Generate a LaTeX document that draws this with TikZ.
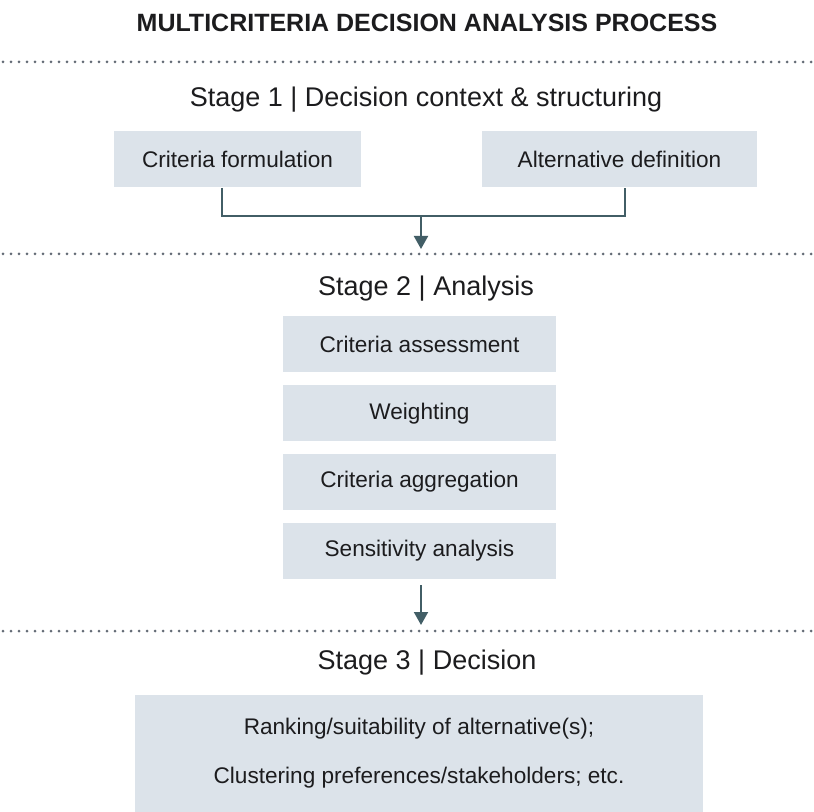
\documentclass[tikz,border=0pt]{standalone}
\usepackage{fontspec}
\setmainfont{Liberation Sans}
\usetikzlibrary{arrows.meta,positioning}
\definecolor{mist}{RGB}{220,227,234}
\definecolor{slate}{RGB}{66,94,102}
\definecolor{ink}{RGB}{28,28,30}
\definecolor{dots}{RGB}{100,108,118}
\tikzset{
  >={Triangle[length=6.5pt,width=7pt]},
  step box/.style={fill=mist,minimum height=28pt,minimum width=#1,align=center,
    font=\fontsize{11.3}{13.6}\selectfont,text=ink,inner sep=0pt},
  step box/.default=136.5pt,
  stage/.style={font=\fontsize{13.5}{16}\selectfont,text=ink},
  link/.style={draw=slate,line width=1pt},
  divider/.style={draw=dots,line width=1.5pt,line cap=round,dash pattern=on 0pt off 4pt},
}

\begin{document}
\begin{tikzpicture}[x=0.5pt,y=-0.5pt,node distance=6pt]
    \useasboundingbox[fill=white] (0,0) rectangle (814,812);
    \node[font=\fontsize{12.5}{15}\selectfont\bfseries,text=ink] (title) at (427,23) {MULTICRITERIA DECISION ANALYSIS PROCESS};
    % dotted separators between the stages
    \foreach \y in {62,254,631} \draw[divider] (3,\y) -- (814,\y);
    % stage 1
    \node[stage] (s1) at (426,100) {Stage 1 | Decision context \& structuring};
    \node[step box=123.5pt] (crit) at (237.5,159.5) {Criteria formulation};
    \node[step box=137.5pt] (alt) at (619.5,159.5) {Alternative definition};
    \coordinate (join) at (421,216);
    \coordinate (s2in) at (421,249);
    \draw[link] ([xshift=-8pt]crit.south) |- (join) -| ([xshift=2.75pt]alt.south);
    \draw[link,->] (join) -- (s2in);
    % stage 2
    \node[stage] (s2) at (426,289) {Stage 2 | Analysis};
    \node[step box] (assess) at (419.5,344.5) {Criteria assessment};
    \node[step box,below=of assess] (weight) {Weighting};
    \node[step box,below=of weight] (aggr) {Criteria aggregation};
    \node[step box,below=of aggr] (sens) {Sensitivity analysis};
    \coordinate (s2out) at (421,585);
    \coordinate (s3in) at (421,625);
    \draw[link,->] (s2out) -- (s3in);
    % stage 3
    \node[stage] (s3) at (427,663) {Stage 3 | Decision};
    \node[step box=284pt,minimum height=58.5pt] (decide) at (419,753.5)
      {Ranking/suitability of alternative(s);\\[11pt]Clustering preferences/stakeholders; etc.};
\end{tikzpicture}
\end{document}
